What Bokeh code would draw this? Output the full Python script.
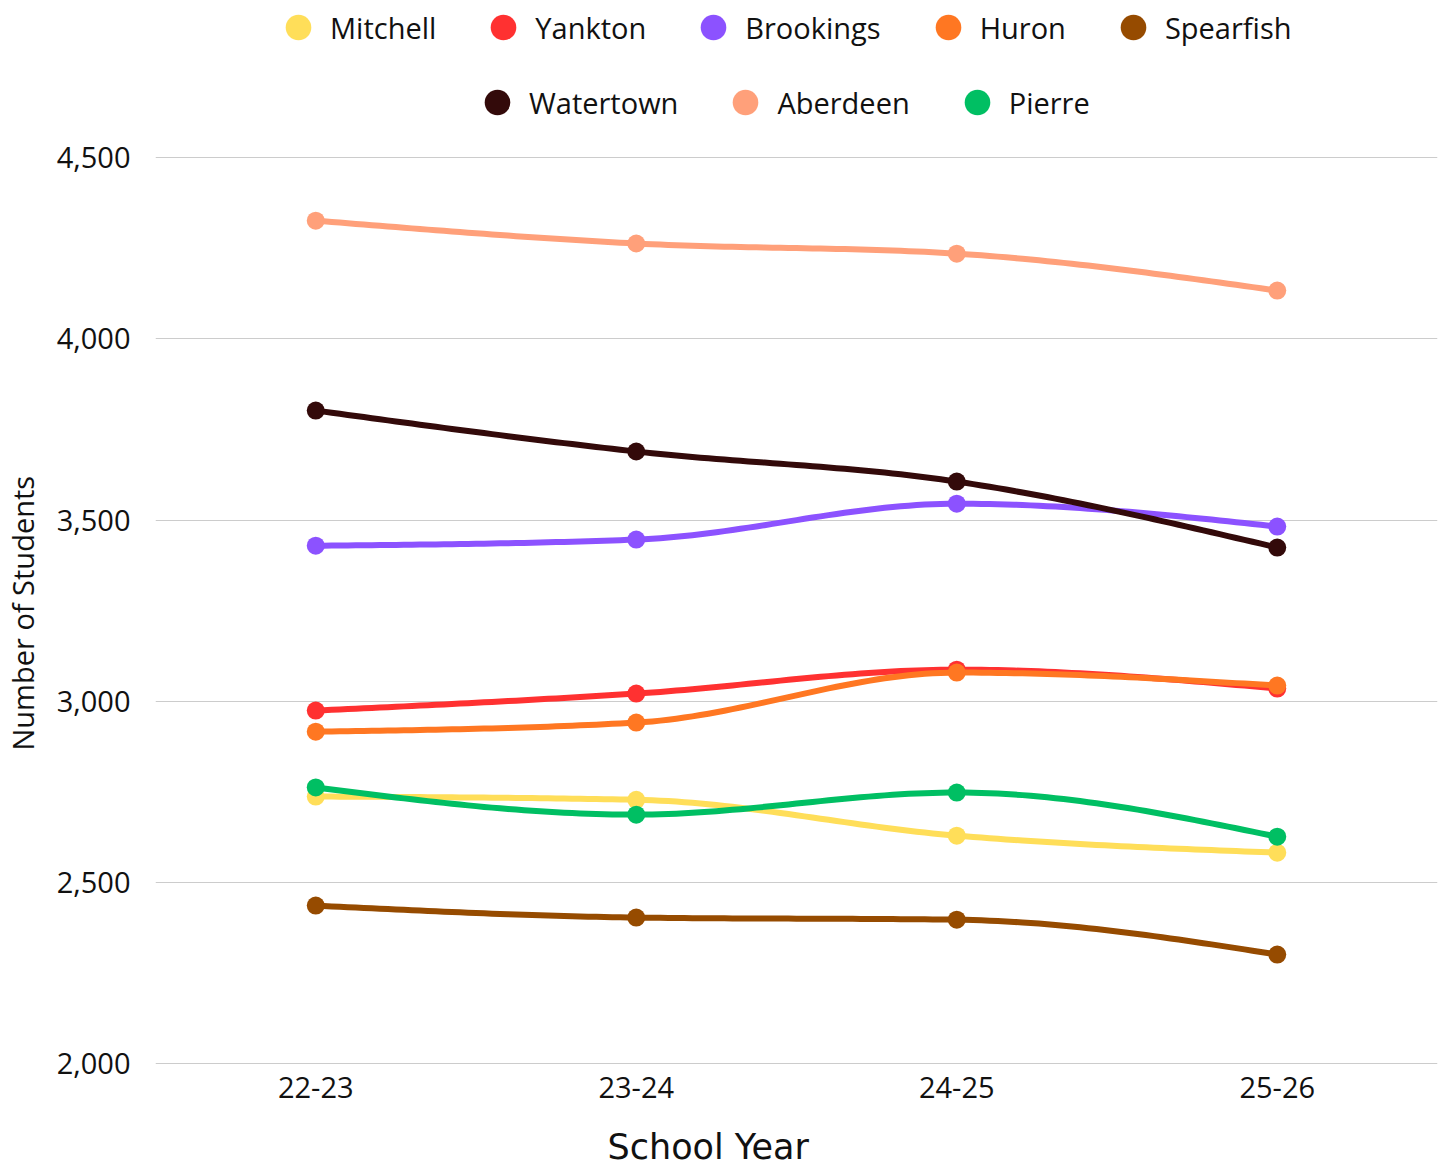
import numpy as np
from bokeh.plotting import figure
from bokeh.models import (Range1d, FixedTicker, NumeralTickFormatter, Legend,
                          LegendItem, Title, LinearAxis)
from bokeh.embed import file_html
from bokeh.resources import INLINE

# School years on the x axis
years = ["22-23", "23-24", "24-25", "25-26"]

# Enrollment (number of students) per school district
mitchell = [2737, 2728, 2629, 2582]
yankton = [2974, 3021, 3087, 3035]
brookings = [3429, 3446, 3545, 3482]
huron = [2916, 2941, 3079, 3043]
spearfish = [2436, 2403, 2397, 2301]
watertown = [3802, 3689, 3606, 3424]
aberdeen = [4326, 4263, 4235, 4133]
pierre = [2762, 2687, 2748, 2626]

names = ["Mitchell", "Yankton", "Brookings", "Huron", "Spearfish",
         "Watertown", "Aberdeen", "Pierre"]
series = [mitchell, yankton, brookings, huron, spearfish,
          watertown, aberdeen, pierre]
colors = ["#FFDE59", "#FF3131", "#8C52FF", "#FF7722", "#964B00",
          "#330A0A", "#FFA07A", "#00BF63"]

y_ticks = [2000, 2500, 3000, 3500, 4000, 4500]

FONT = "Open Sans"
TEXT = "#111111"


def monotone_curve(xs, ys, n=40):
    """Monotone cubic (Fritsch-Carlson style) curve through the points."""
    xs = np.asarray(xs, float)
    ys = np.asarray(ys, float)
    h = np.diff(xs)
    s = np.diff(ys) / h
    m = np.zeros(len(xs))
    for i in range(1, len(xs) - 1):
        p = (s[i - 1] * h[i] + s[i] * h[i - 1]) / (h[i - 1] + h[i])
        m[i] = (np.sign(s[i - 1]) + np.sign(s[i])) * min(abs(s[i - 1]), abs(s[i]), 0.5 * abs(p))
    m[0] = (3 * s[0] - m[1]) / 2
    m[-1] = (3 * s[-1] - m[-2]) / 2
    cx, cy = [], []
    for i in range(len(xs) - 1):
        t = np.linspace(0, 1, n, endpoint=(i == len(xs) - 2))
        h00 = 2 * t**3 - 3 * t**2 + 1
        h10 = t**3 - 2 * t**2 + t
        h01 = -2 * t**3 + 3 * t**2
        h11 = t**3 - t**2
        cx.extend(xs[i] + t * h[i])
        cy.extend(h00 * ys[i] + h10 * h[i] * m[i] + h01 * ys[i + 1] + h11 * h[i] * m[i + 1])
    return cx, cy


xpos = [i + 0.5 for i in range(len(years))]

# The value range runs above 4,500 to leave room for the legend rows
# inside the plot area; a sliver below 2,000 keeps that grid line visible.
p = figure(width=1445, height=1169,
           x_range=Range1d(0, len(years)), y_range=Range1d(1992, 4933.5),
           output_backend="svg", toolbar_location=None,
           min_border_left=155, min_border_right=8,
           min_border_bottom=103, min_border_top=0,
           outline_line_color=None, background_fill_color="white",
           border_fill_color="white")

items = []
for name, vals, col in zip(names, series, colors):
    cx, cy = monotone_curve(xpos, vals)
    p.line(cx, cy, line_color=col, line_width=6, line_cap="round", line_join="round")
    r = p.scatter(xpos, vals, size=18, fill_color=col, line_color=col, line_width=0)
    items.append(LegendItem(label=name, renderers=[r]))

# x axis
p.xaxis.ticker = FixedTicker(ticks=xpos)
p.xaxis.major_label_overrides = {x: y for x, y in zip(xpos, years)}
p.xaxis.major_label_standoff = 4

# y axis
p.yaxis.ticker = FixedTicker(ticks=y_ticks)
p.yaxis.formatter = NumeralTickFormatter(format="0,0")
p.yaxis.major_label_standoff = 19

for ax in (p.xaxis, p.yaxis):
    ax.axis_line_color = None
    ax.major_tick_line_color = None
    ax.minor_tick_line_color = None
    ax.major_label_text_font = FONT
    ax.major_label_text_font_size = "29px"
    ax.major_label_text_color = TEXT

p.xgrid.grid_line_color = None
p.ygrid.grid_line_color = "#cccccc"
p.ygrid.grid_line_width = 1


def gap_axis(size, at):
    """Blank axis (one white tick, no label) that only opens a gap
    between the tick labels and an axis title."""
    return LinearAxis(ticker=FixedTicker(ticks=[at]),
                      major_label_overrides={at: ""},
                      axis_line_color=None,
                      major_tick_line_color="white", major_tick_line_width=1,
                      minor_tick_line_color=None,
                      major_tick_in=0, major_tick_out=size,
                      minor_tick_in=0, minor_tick_out=0,
                      major_label_standoff=0)


# axis titles
p.add_layout(gap_axis(12, y_ticks[0]), "left")
p.add_layout(Title(text="Number of Students", align="left", offset=316,
                   text_font=FONT, text_font_size="29px",
                   text_font_style="normal", text_color=TEXT,
                   standoff=0), "left")
p.add_layout(gap_axis(24, xpos[0]), "below")
p.add_layout(Title(text="School Year", align="left", offset=452,
                   text_font="DejaVu Sans", text_font_size="35px",
                   text_font_style="normal", text_color=TEXT,
                   standoff=0), "below")


# legend in two rows at the top
def make_legend(its, loc):
    return Legend(items=its, orientation="horizontal", location=loc,
                  label_text_font=FONT, label_text_font_size="29px",
                  label_text_color=TEXT,
                  glyph_width=64, glyph_height=70, label_standoff=0,
                  spacing=35, padding=0, margin=0,
                  border_line_color=None, background_fill_alpha=0)


p.add_layout(make_legend(items[:5], (111, 1004)))
p.add_layout(make_legend(items[5:], (310, 929)))

open("out.html", "w").write(file_html(p, INLINE))
